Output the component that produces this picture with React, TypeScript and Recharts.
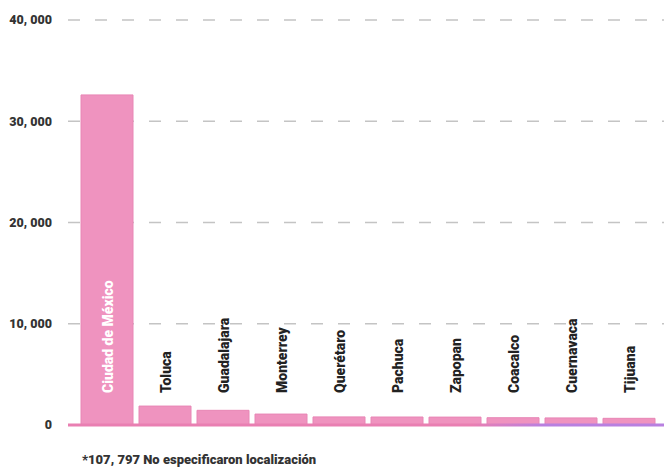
import React from 'react';
import { BarChart, Bar, XAxis, YAxis, CartesianGrid, ReferenceLine, LabelList } from 'recharts';

const ciudades = ['Ciudad de México', 'Toluca', 'Guadalajara', 'Monterrey', 'Querétaro', 'Pachuca', 'Zapopan', 'Coacalco', 'Cuernavaca', 'Tijuana'];
const casos = [32600, 1870, 1450, 1080, 800, 790, 780, 720, 700, 660];
const ticksY = [0, 10000, 20000, 30000, 40000];

const data = ciudades.map((ciudad, i) => ({ ciudad, casos: casos[i] }));

const fuente = 'Roboto, "Noto Sans", sans-serif';

const formatoMiles = (v: number) => (v === 0 ? '0' : `${Math.floor(v / 1000)}, ${String(v % 1000).padStart(3, '0')}`);

// etiqueta vertical: blanca dentro de la barra grande, negra encima de las pequeñas
const EtiquetaCiudad = (props: any) => {
  const { x, y, width, height, value, index } = props;
  const cx = x + width / 2 + 6;
  const base = y + height - 32;
  return (
    <text
      x={cx}
      y={base}
      transform={`rotate(-90 ${cx} ${base})`}
      textAnchor="start"
      fontFamily={fuente}
      fontWeight={900}
      fontSize={14}
      fill={index === 0 ? '#ffffff' : '#222222'}
    >
      {value}
    </text>
  );
};

const App: React.FC = () => {
  return (
    <div style={{ position: 'absolute', left: 0, top: 0, width: 664, height: 470, background: '#fff' }}>
      <BarChart width={664} height={470} data={data} margin={{ top: 20, right: 0, bottom: 45, left: 0 }} barCategoryGap={3}>
        <defs>
          <linearGradient id="ejeColor" gradientUnits="userSpaceOnUse" x1="65" y1="0" x2="664" y2="0">
            <stop offset="0%" stopColor="#e97fb2" />
            <stop offset="68%" stopColor="#e97fb2" />
            <stop offset="80%" stopColor="#b880e0" />
            <stop offset="100%" stopColor="#b880e0" />
          </linearGradient>
        </defs>
        <CartesianGrid vertical={false} stroke="#c4c4c4" strokeDasharray="12 15" strokeWidth={1.5} />
        <XAxis dataKey="ciudad" hide padding={{ left: 10, right: 6 }} />
        <YAxis
          domain={[0, 40000]}
          ticks={ticksY}
          width={68}
          axisLine={false}
          tickLine={false}
          tickFormatter={formatoMiles}
          tick={{ fill: '#333333', fontSize: 12.5, fontWeight: 900, fontFamily: fuente }}
          tickMargin={10}
        />
        <Bar dataKey="casos" fill="#ef93bf" stroke="#e886b5" strokeWidth={1} isAnimationActive={false}>
          <LabelList dataKey="ciudad" content={<EtiquetaCiudad />} />
        </Bar>
        <ReferenceLine y={0} stroke="url(#ejeColor)" strokeWidth={3} />
      </BarChart>
      <div
        style={{
          position: 'absolute',
          left: 82,
          top: 452,
          fontFamily: fuente,
          fontWeight: 900,
          fontSize: 13,
          color: '#333333',
        }}
      >
        *107, 797 No especificaron localización
      </div>
    </div>
  );
};

export default App;
